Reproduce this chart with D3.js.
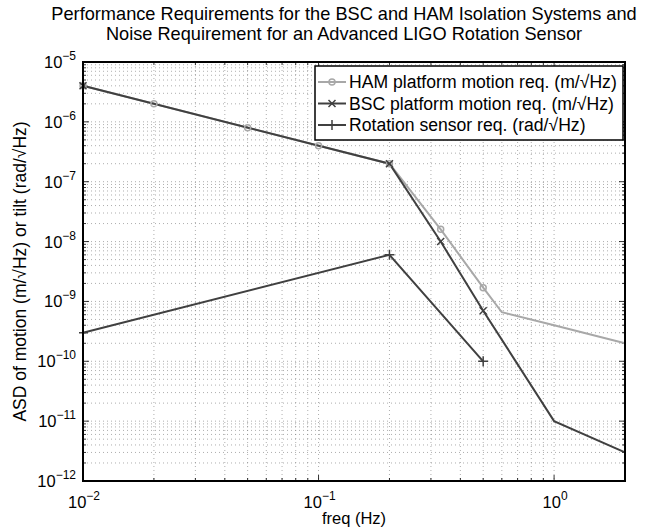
<!DOCTYPE html>
<html>
<head>
<meta charset="utf-8">
<script src="https://cdn.jsdelivr.net/npm/d3@7"></script>
<style>
body { margin: 0; background: #fff; }
text { font-family: "Liberation Sans", Arial, sans-serif; }
</style>
</head>
<body>
<div id="chart"></div>
<script>
// data (freq in Hz, ASD)
const hamFreq = [0.01, 0.02, 0.05, 0.1, 0.2, 0.33, 0.5, 0.6, 1, 2];
const hamVal = [4e-6, 2e-6, 8e-7, 4e-7, 2e-7, 1.6e-8, 1.7e-9, 6.6e-10, 4e-10, 2e-10];
const hamMarked = [0.01, 0.02, 0.05, 0.1, 0.2, 0.33, 0.5];

const bscFreq = [0.01, 0.2, 0.33, 0.5, 1, 2];
const bscVal = [4e-6, 2e-7, 1e-8, 7e-10, 1e-11, 3e-12];
const bscMarked = [0.01, 0.2, 0.33, 0.5];

const rotFreq = [0.01, 0.2, 0.5];
const rotVal = [3e-10, 6e-9, 1e-10];

const titleLines = ["Performance Requirements for the BSC and HAM Isolation Systems and",
  "Noise Requirement for an Advanced LIGO Rotation Sensor"];
const legendLabels = ["HAM platform motion req. (m/\u221AHz)",
  "BSC platform motion req. (m/\u221AHz)",
  "Rotation sensor req. (rad/\u221AHz)"];
const xExps = [-2, -1, 0];
const yExps = [-12, -11, -10, -9, -8, -7, -6, -5];

const width = 666, height = 529;
const margin = { top: 62, right: 41, bottom: 48, left: 83 };
const innerW = width - margin.left - margin.right;
const innerH = height - margin.top - margin.bottom;

const DARK = "#404040", LIGHT = "#a8a8a8";

const svg = d3.select("#chart").append("svg")
  .attr("width", width).attr("height", height);

const x = d3.scaleLog().domain([0.01, 2]).range([0, innerW]);
const y = d3.scaleLog().domain([1e-12, 1e-5]).range([innerH, 0]);

// title
svg.append("g").selectAll("text").data(titleLines).enter().append("text")
  .attr("x", 344).attr("y", (d, i) => 20 + i * 19.5)
  .attr("text-anchor", "middle").attr("font-size", 18.2)
  .text(d => d);

const g = svg.append("g").attr("transform", `translate(${margin.left},${margin.top})`);

// log tick positions
const xTicks = [];
for (let e = -2; e <= 0; e++) for (let m = 1; m <= 9; m++) {
  const v = m * Math.pow(10, e);
  if (v >= 0.01 && v <= 2) xTicks.push({ v, major: m === 1 });
}
xTicks.push({ v: 2, major: false });
const yTicks = [];
for (let e = -12; e <= -5; e++) for (let m = 1; m <= 9; m++) {
  const v = m * Math.pow(10, e);
  if (v <= 1.0001e-5) yTicks.push({ v, major: m === 1 });
}

// grid
const grid = g.append("g").attr("stroke", "#777").attr("stroke-width", 0.6)
  .attr("stroke-dasharray", "1,3");
grid.selectAll(".gx").data(xTicks.filter(t => t.v > 0.01 && t.v < 2)).enter().append("line")
  .attr("x1", d => x(d.v)).attr("x2", d => x(d.v)).attr("y1", 0).attr("y2", innerH);
grid.selectAll(".gy").data(yTicks.filter(t => t.v > 1e-12 && t.v < 1e-5)).enter().append("line")
  .attr("y1", d => y(d.v)).attr("y2", d => y(d.v)).attr("x1", 0).attr("x2", innerW);

// inner ticks on all sides
const tk = g.append("g").attr("stroke", "#000").attr("stroke-width", 0.8);
xTicks.forEach(t => {
  const L = t.major ? 6 : 3;
  tk.append("line").attr("x1", x(t.v)).attr("x2", x(t.v)).attr("y1", innerH).attr("y2", innerH - L);
  tk.append("line").attr("x1", x(t.v)).attr("x2", x(t.v)).attr("y1", 0).attr("y2", L);
});
yTicks.forEach(t => {
  const L = t.major ? 6 : 3;
  tk.append("line").attr("y1", y(t.v)).attr("y2", y(t.v)).attr("x1", 0).attr("x2", L);
  tk.append("line").attr("y1", y(t.v)).attr("y2", y(t.v)).attr("x1", innerW).attr("x2", innerW - L);
});

// lines
const line = d3.line().x(d => x(d[0])).y(d => y(d[1]));
g.append("clipPath").attr("id", "clip").append("rect")
  .attr("x", -4).attr("y", -4).attr("width", innerW + 8).attr("height", innerH + 8);
const plot = g.append("g").attr("clip-path", "url(#clip)");

function series(fr, vals, color) {
  plot.append("path").datum(d3.zip(fr, vals))
    .attr("fill", "none").attr("stroke", color).attr("stroke-width", 2)
    .attr("d", line);
}
series(hamFreq, hamVal, LIGHT);
series(bscFreq, bscVal, DARK);
series(rotFreq, rotVal, DARK);

function circleMark(sel, cx, cy, color) {
  sel.append("circle").attr("cx", cx).attr("cy", cy).attr("r", 3)
    .attr("fill", "none").attr("stroke", color).attr("stroke-width", 1.5);
}
function xMark(sel, cx, cy, color) {
  const s = 3.5;
  sel.append("path").attr("d", `M${cx - s},${cy - s}L${cx + s},${cy + s}M${cx - s},${cy + s}L${cx + s},${cy - s}`)
    .attr("stroke", color).attr("stroke-width", 1.5);
}
function plusMark(sel, cx, cy, color) {
  const s = 5;
  sel.append("path").attr("d", `M${cx - s},${cy}L${cx + s},${cy}M${cx},${cy - s}L${cx},${cy + s}`)
    .attr("stroke", color).attr("stroke-width", 1.5);
}

hamMarked.forEach(f => circleMark(plot, x(f), y(hamVal[hamFreq.indexOf(f)]), LIGHT));
bscMarked.forEach(f => xMark(plot, x(f), y(bscVal[bscFreq.indexOf(f)]), DARK));
rotFreq.forEach((f, i) => plusMark(plot, x(f), y(rotVal[i]), DARK));

// box
g.append("rect").attr("width", innerW).attr("height", innerH)
  .attr("fill", "none").attr("stroke", "#000").attr("stroke-width", 2);

// tick labels
function powLabel(sel, px, py, exp, anchor) {
  const t = sel.append("text").attr("x", px).attr("y", py).attr("text-anchor", anchor)
    .attr("font-size", 16.5);
  t.append("tspan").text("10");
  t.append("tspan").attr("dy", -8).attr("font-size", 12)
    .text(exp < 0 ? "\u2212" + Math.abs(exp) : String(exp));
}
xExps.forEach(e => powLabel(g, x(Math.pow(10, e)) + 1, innerH + 27, e, "middle"));
yExps.forEach(e => powLabel(g, -7, y(Math.pow(10, e)) + 6, e, "end"));

// axis labels
g.append("text").attr("x", innerW / 2).attr("y", innerH + 43)
  .attr("text-anchor", "middle").attr("font-size", 16.5).text("freq (Hz)");
svg.append("text").attr("transform", `translate(26,${margin.top + innerH / 2}) rotate(-90)`)
  .attr("text-anchor", "middle").attr("font-size", 17.5)
  .text("ASD of motion (m/\u221AHz) or tilt (rad/\u221AHz)");

// legend
const lg = svg.append("g").attr("transform", "translate(315,66)");
lg.append("rect").attr("width", 308).attr("height", 74)
  .attr("fill", "#fff").attr("stroke", "#000").attr("stroke-width", 1.5);
const legColors = [LIGHT, DARK, DARK];
const legMarks = [circleMark, xMark, plusMark];
legendLabels.forEach((lab, i) => {
  const cy = 16 + i * 21.5;
  lg.append("line").attr("x1", 3).attr("x2", 31).attr("y1", cy).attr("y2", cy)
    .attr("stroke", legColors[i]).attr("stroke-width", 2);
  legMarks[i](lg, 17, cy, legColors[i]);
  lg.append("text").attr("x", 34).attr("y", cy + 6).attr("font-size", 17.6).text(lab);
});
</script>
</body>
</html>
